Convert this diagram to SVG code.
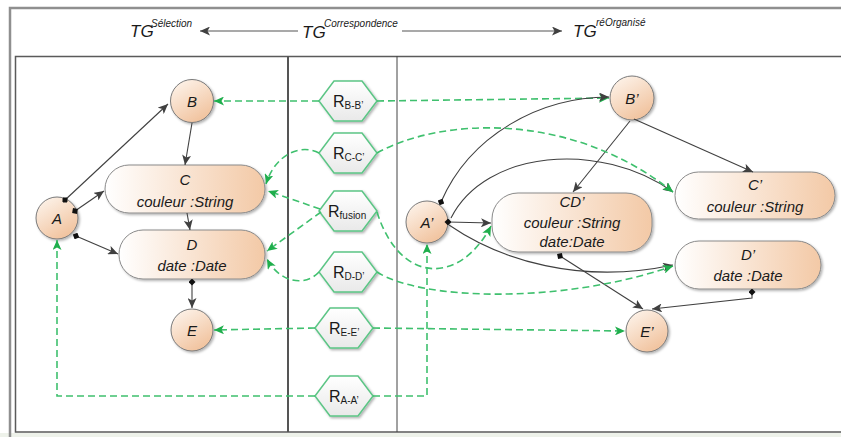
<svg xmlns="http://www.w3.org/2000/svg" width="841" height="437" viewBox="0 0 841 437">
<defs>
<linearGradient id="gPill" x1="0" y1="0" x2="1" y2="0"><stop offset="0" stop-color="#ffffff"/><stop offset="1" stop-color="#f3c9a6"/></linearGradient>
<linearGradient id="gCirc" x1="0.2" y1="0" x2="0.8" y2="1"><stop offset="0" stop-color="#fdf3ea"/><stop offset="1" stop-color="#f0bf98"/></linearGradient>
<linearGradient id="gHex" x1="0" y1="0" x2="0" y2="1"><stop offset="0" stop-color="#ffffff"/><stop offset="1" stop-color="#e9e9e9"/></linearGradient>
<filter id="sh" x="-20%" y="-20%" width="150%" height="150%"><feDropShadow dx="1.5" dy="1.5" stdDeviation="1" flood-color="#000" flood-opacity="0.3"/></filter>
<marker id="arr" markerWidth="11" markerHeight="9" refX="10" refY="4.5" orient="auto" markerUnits="userSpaceOnUse"><path d="M0,0 L10,4.5 L0,9 L2.5,4.5 z" fill="#404040"/></marker>
<marker id="garr" markerWidth="11" markerHeight="9" refX="10" refY="4.5" orient="auto" markerUnits="userSpaceOnUse"><path d="M0,0 L10,4.5 L0,9 L2.5,4.5 z" fill="#1fae4c"/></marker>
<marker id="dia" markerWidth="7" markerHeight="7" refX="3.5" refY="3.5" orient="auto" markerUnits="userSpaceOnUse"><path d="M0,3.5 L3.5,0 L7,3.5 L3.5,7 z" fill="#111"/></marker>
</defs>
<style>
.frame{fill:none;stroke:#8f8f8f;stroke-width:2.5}
.panel{fill:none;stroke:#5a5a5a;stroke-width:1.5}
.circ{fill:url(#gCirc);stroke:#7a7a7a;stroke-width:1;filter:url(#sh)}
.pill{fill:url(#gPill);stroke:#8a8a8a;stroke-width:1;filter:url(#sh)}
.hex{fill:url(#gHex);stroke:#5cc585;stroke-width:1.5;filter:url(#sh)}
.lbl{font-family:"Liberation Sans",Arial,sans-serif;font-style:italic;font-size:15px;fill:#1a1a1a;text-anchor:middle}
.rl{font-family:"Liberation Sans",Arial,sans-serif;font-size:16px;fill:#1a1a1a}
.rs{font-size:10px}
.tg{font-family:"Liberation Sans",Arial,sans-serif;font-style:italic;font-size:17px;fill:#1a1a1a}
.sup{font-family:"Liberation Sans",Arial,sans-serif;font-style:italic;font-size:10px;fill:#1a1a1a}
.e{fill:none;stroke:#404040;stroke-width:1.1;marker-end:url(#arr)}
.ed{fill:none;stroke:#404040;stroke-width:1.1;marker-end:url(#arr);marker-start:url(#dia)}
.g{fill:none;stroke:#3fc06e;stroke-width:1.6;stroke-dasharray:7 4;marker-end:url(#garr)}
.ha{fill:none;stroke:#555;stroke-width:1.2;marker-end:url(#arr)}
</style>
<rect x="0" y="0" width="841" height="437" fill="#ffffff"/>
<rect x="0" y="433" width="841" height="4" fill="#eef2ea"/>
<path class="frame" d="M10,437 V8 H841"/>
<rect class="panel" x="15.5" y="56.5" width="830" height="375.5"/>
<line x1="288" y1="56" x2="288" y2="432" stroke="#555" stroke-width="2"/>
<line x1="397" y1="56" x2="397" y2="432" stroke="#444" stroke-width="1"/>

<g id="header">
<text class="tg" x="130" y="37">TG</text><text class="sup" x="151" y="27">Sélection</text>
<line class="ha" x1="298" y1="31" x2="200" y2="31"/>
<text class="tg" x="302" y="38">TG</text><text class="sup" x="324" y="27">Correspondence</text>
<line class="ha" x1="402" y1="31" x2="562" y2="31"/>
<text class="tg" x="573" y="37">TG</text><text class="sup" x="596" y="26">réOrganisé</text>
</g>

<g id="A"><circle class="circ" cx="57" cy="218" r="21"/><text class="lbl" x="57" y="224">A</text></g>
<g id="B"><circle class="circ" cx="192" cy="101" r="21.5"/><text class="lbl" x="192" y="107">B</text></g>
<g id="C"><rect class="pill" x="105" y="165" width="160" height="48" rx="24"/><text class="lbl" x="185" y="185">C</text><text class="lbl" x="185" y="207">couleur :String</text></g>
<g id="D"><rect class="pill" x="119" y="230" width="146" height="49" rx="24"/><text class="lbl" x="192" y="250">D</text><text class="lbl" x="192" y="271">date :Date</text></g>
<g id="E"><circle class="circ" cx="192" cy="330" r="21"/><text class="lbl" x="192" y="336">E</text></g>

<g id="RBB"><polygon class="hex" points="319,101 334,81 362,81 377,101 362,121 334,121"/><text class="rl" x="333" y="107">R<tspan class="rs" dy="2">B-B’</tspan></text></g>
<g id="RCC"><polygon class="hex" points="319,153 334,133 362,133 377,153 362,173 334,173"/><text class="rl" x="333" y="159">R<tspan class="rs" dy="2">C-C’</tspan></text></g>
<g id="Rfusion"><polygon class="hex" points="319,211 334,191 362,191 377,211 362,231 334,231"/><text class="rl" x="328" y="217">R<tspan class="rs" dy="2">fusion</tspan></text></g>
<g id="RDD"><polygon class="hex" points="319,272 334,252 362,252 377,272 362,292 334,292"/><text class="rl" x="333" y="278">R<tspan class="rs" dy="2">D-D’</tspan></text></g>
<g id="REE"><polygon class="hex" points="315,328 330,308 358,308 373,328 358,348 330,348"/><text class="rl" x="329" y="334">R<tspan class="rs" dy="2">E-E’</tspan></text></g>
<g id="RAA"><polygon class="hex" points="315,396 330,376 358,376 373,396 358,416 330,416"/><text class="rl" x="329" y="402">R<tspan class="rs" dy="2">A-A’</tspan></text></g>

<g id="A2"><circle class="circ" cx="427" cy="222" r="21"/><text class="lbl" x="427" y="228">A’</text></g>
<g id="B2"><circle class="circ" cx="632" cy="98" r="22"/><text class="lbl" x="632" y="104">B’</text></g>
<g id="CD2"><rect class="pill" x="492" y="193" width="160" height="59" rx="26"/><text class="lbl" x="572" y="207">CD’</text><text class="lbl" x="572" y="228">couleur :String</text><text class="lbl" x="572" y="247">date:Date</text></g>
<g id="C2"><rect class="pill" x="675" y="172" width="160" height="47" rx="23.5"/><text class="lbl" x="755" y="190">C’</text><text class="lbl" x="755" y="212">couleur :String</text></g>
<g id="D2"><rect class="pill" x="675" y="241" width="146" height="48" rx="24"/><text class="lbl" x="748" y="260">D’</text><text class="lbl" x="748" y="281">date :Date</text></g>
<g id="E2"><circle class="circ" cx="647" cy="331" r="21"/><text class="lbl" x="647" y="337">E’</text></g>

<g id="connectors">
<path class="g" d="M377,101 L609,98"/>
<path class="ed" d="M65,200 L168,104"/>
<path class="ed" d="M75,211 L104,191"/>
<path class="ed" d="M76,236 L118,254"/>
<path class="e" d="M192,123 L185,165"/>
<path class="e" d="M187,213 L190,230"/>
<path class="ed" d="M192,282 L192,308"/>
<path class="ed" d="M441,202 C470,135 540,97 609,97"/>
<path class="ed" d="M448,222 L491,223"/>
<path class="e" d="M451,218 C485,150 600,140 673,192"/>
<path class="e" d="M449,225 C500,260 580,285 673,265"/>
<path class="e" d="M630,121 L573,192"/>
<path class="e" d="M634,119 L753,172"/>
<path class="ed" d="M560,256 L643,309"/>
<path class="ed" d="M752,292 L752,298 L652,309"/>
<path class="g" d="M319,101 L214,101"/>
<path class="g" d="M319,153 C300,143 275,155 266,184"/>
<path class="g" d="M377,153 C440,118 570,110 673,192"/>
<path class="g" d="M320,209 L268,191"/>
<path class="g" d="M321,212 L267,251"/>
<path class="g" d="M377,212 C400,285 460,285 491,226"/>
<path class="g" d="M319,272 C305,287 280,283 267,259"/>
<path class="g" d="M377,272 C420,300 560,305 673,266"/>
<path class="g" d="M315,328 L214,330"/>
<path class="g" d="M373,328 L625,331"/>
<path class="g" d="M315,396 L57,396 L57,240"/>
<path class="g" d="M373,396 L427,396 L427,244"/>
</g>
</svg>
